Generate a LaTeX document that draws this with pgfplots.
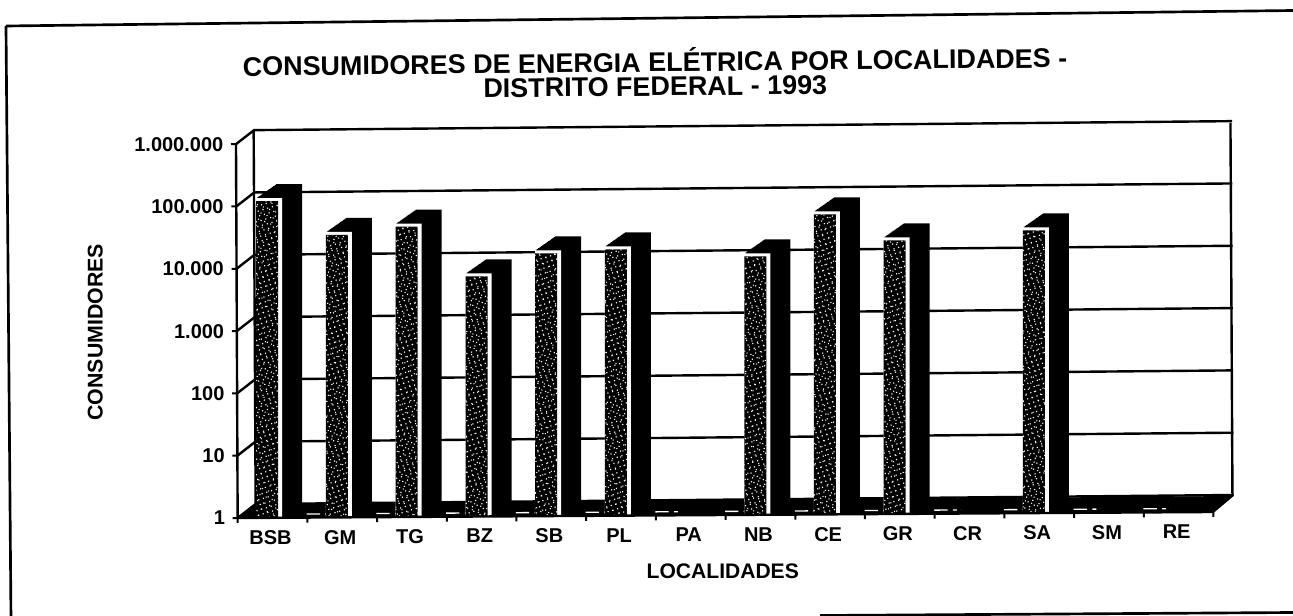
\documentclass[border=0pt]{standalone}
\usepackage{fontspec}
\setmainfont{Liberation Sans}
\usepackage{pgfplots}
\usepackage{pgfplotstable}
\pgfplotsset{compat=1.18}
\usetikzlibrary{patterns.meta}

% 1 px of the scan = 0.75pt
\def\px{0.75pt}

\pgfplotstableread{
x    v
0.5  135000
1.5  38000
2.5  51000
3.5  8000
4.5  18400
5.5  21000
6.5  1
7.5  15700
8.5  73000
9.5  27500
10.5 1
11.5 38500
12.5 1
13.5 1
}\consumidores

\begin{document}
\begin{tikzpicture}
\path[use as bounding box] (0,0) rectangle (1293*\px,615*\px);

% outer frame of the scan
\draw[line width=2pt] (6*\px,589*\px) -- (1293*\px,604.5*\px);
\draw[line width=2pt] (6*\px,589*\px) -- (11*\px,-5*\px);
\draw[line width=2pt] (820*\px,-0.5*\px) -- (1293*\px,2.5*\px);

\begin{axis}[
    at={(236*\px,97*\px)},
    anchor=south west,
    x={(69.7*\px,0.43*\px)},
    y={(-0.12*\px,27.06*\px)}, % per ln unit: 62.3 px a decade
    ymode=log,
    xmin=0, xmax=14,
    ymin=1, ymax=1000000,
    clip=false,
    axis on top,
    axis x line*=bottom,
    axis y line*=left,
    axis line style={line width=1.8pt,-},
    tick style={line width=1.5pt,black},
    tick align=outside,
    major tick length=5*\px,
    minor tick length=0pt,
    xtick={0,...,14},
    xticklabels={},
    extra x ticks={0.5,1.5,...,13.5},
    extra x tick labels={BSB,GM,TG,BZ,SB,PL,PA,NB,CE,GR,CR,SA,SM,RE},
    extra x tick style={major tick length=0pt},
    ytick={1,10,100,1000,10000,100000,1000000},
    yticklabels={1,10,100,1.000,10.000,100.000,1.000.000},
    ticklabel style={font=\fontsize{15}{18}\selectfont\bfseries},
    xticklabel style={yshift=-8*\px,xshift=-2*\px},
    yticklabel style={xshift=-3*\px},
    title={CONSUMIDORES DE ENERGIA ELÉTRICA POR LOCALIDADES -\\DISTRITO FEDERAL - 1993},
    title style={font=\fontsize{20.2}{18}\selectfont\bfseries,align=center,
        at={(axis description cs:0.4288,1.153)},anchor=center,rotate=0.6},
    xlabel={LOCALIDADES},
    xlabel style={font=\fontsize{15.8}{18}\selectfont\bfseries,
        at={(axis description cs:0.498,-0.139)},anchor=center},
    ylabel={CONSUMIDORES},
    ylabel style={font=\fontsize{16}{18}\selectfont\bfseries,
        at={(axis description cs:-0.144,0.489)},anchor=center},
]

% back wall and left wall
\pgfplotsinvokeforeach{1,10,100,1000,10000,100000,1000000}{
    \draw[line width=1.8pt] (axis cs:0,#1) -- ++(18*\px,14*\px) -- ++(978*\px,9*\px);
}
\draw[line width=1.8pt] (axis cs:0,1) ++(18*\px,14*\px) -- ++(-2*\px,373*\px);
\draw[line width=1.8pt] (axis cs:14,1) ++(19*\px,16*\px) -- ++(-2*\px,373*\px);

% floor
\fill[black] (axis cs:0,1) -- ++(18*\px,14*\px) -- ++(978*\px,8*\px) -- ++(-19*\px,-16*\px) -- cycle;
\draw[white,line width=1pt,dash pattern=on 10pt off 4pt on 3pt off 3pt on 2pt off 30.3pt]
    (axis cs:0,1) ++(69*\px,4*\px) -- ++(905*\px,5.6*\px);

% side and top of the bars: the same bars pushed back step by step
\pgfplotsinvokeforeach{1,2,...,20}{
    \addplot[ybar,bar width=26*\px,bar shift=-2*\px,draw=none,fill=black,
        xshift=#1*\px,yshift=#1*0.7*\px,forget plot] table[x=x,y=v] {\consumidores};
}

% front of the bars
\addplot[ybar,bar width=26*\px,bar shift=-2*\px,draw=none,fill=white,forget plot]
    table[x=x,y=v] {\consumidores};
\addplot[ybar,bar width=22*\px,bar shift=-4*\px,draw=none,fill=black,yshift=-3*\px,forget plot]
    table[x=x,y=v] {\consumidores};
\addplot[ybar,bar width=22*\px,bar shift=-4*\px,draw=none,yshift=-3*\px,
    pattern={Dots[distance=3.7pt,radius=0.6pt,angle=17]},pattern color=white,forget plot]
    table[x=x,y=v] {\consumidores};
\addplot[ybar,bar width=22*\px,bar shift=-4*\px,draw=none,yshift=-3*\px,
    pattern={Dots[distance=4.9pt,radius=0.55pt,angle=68]},pattern color=white,forget plot]
    table[x=x,y=v] {\consumidores};
% the textured fronts are pushed 3 px down: keep them off the strip under the axis line
\fill[white] (axis cs:0,1) -- ++(0pt,-4*\px) -- ++(974*\px,0pt) -- ++(0pt,10*\px) -- cycle;
\end{axis}
\end{tikzpicture}
\end{document}
